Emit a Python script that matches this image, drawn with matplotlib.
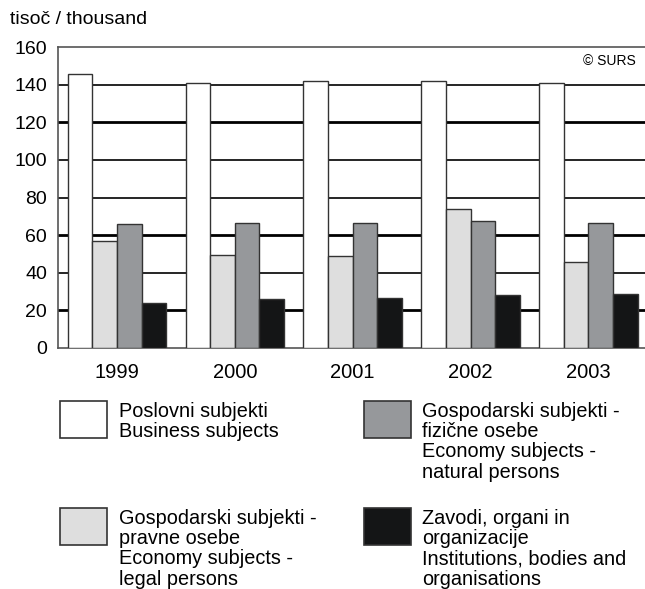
import matplotlib.pyplot as plt
import matplotlib.patches as mpatches
import numpy as np

plt.rcParams['font.family'] = ['Liberation Sans', 'DejaVu Sans']

years = ['1999', '2000', '2001', '2002', '2003']
poslovni = [145.5, 141, 141.8, 141.8, 141]
pravne = [57, 49.5, 49, 74, 45.7]
fizicne = [65.8, 66.6, 66.6, 67.7, 66.6]
zavodi = [23.8, 25.9, 26.4, 28, 28.9]

labels = [
    'Poslovni subjekti\nBusiness subjects',
    'Gospodarski subjekti -\npravne osebe\nEconomy subjects -\nlegal persons',
    'Gospodarski subjekti -\nfizične osebe\nEconomy subjects -\nnatural persons',
    'Zavodi, organi in\norganizacije\nInstitutions, bodies and\norganisations',
]
colors = ['#ffffff', '#dedede', '#96989b', '#141516']
series = [poslovni, pravne, fizicne, zavodi]

fig = plt.figure(figsize=(6.45, 5.89), dpi=100)
ax = fig.add_axes([58 / 645, 1 - 348 / 589, (645 - 58) / 645, 301 / 589])

x = np.arange(len(years))
w = 0.209
for i, (vals, c) in enumerate(zip(series, colors)):
    ax.bar(x + (i - 1.5) * w, vals, width=w, color=c, edgecolor='#333333',
           linewidth=1.0, zorder=3)

for yv in [20, 40, 60, 80, 100, 120, 140]:
    lw = 2.0 if yv in (20, 60, 120) else 1.2
    ax.axhline(yv, color='black', linewidth=lw, zorder=1)

ax.set_xlim(-0.5, 4.48)
ax.set_ylim(0, 160)
ax.set_yticks(range(0, 161, 20))
ax.set_xticks(x)
ax.set_xticklabels(years)
ax.tick_params(length=0, labelsize=14)
ax.tick_params(axis='x', labelsize=14.5, pad=11)
ax.tick_params(axis='y', pad=8)
ax.spines['right'].set_visible(False)
for s in ['left', 'top', 'bottom']:
    ax.spines[s].set_color('#555555')
    ax.spines[s].set_linewidth(1.2)

fig.text(10 / 645, 1 - 20 / 589, 'tisoč / thousand', fontsize=14, va='center')
ax.text(0.985, 0.955, '© SURS', transform=ax.transAxes, fontsize=10,
        ha='right', va='center')

# legend
pos = [(60, 401, 119), (60, 508, 119), (364, 401, 422), (364, 508, 422)]
for (bx, by, tx), c, lab in zip(pos, colors, labels):
    r = mpatches.Rectangle((bx / 645, 1 - (by + 37) / 589), 47 / 645, 37 / 589,
                           facecolor=c, edgecolor='#333333', linewidth=1.2,
                           transform=fig.transFigure)
    fig.add_artist(r)
    fig.text(tx / 645, 1 - (by + 1) / 589, lab, fontsize=14.3, va='top',
             linespacing=1.08)

fig.savefig('out.png', dpi=100)
